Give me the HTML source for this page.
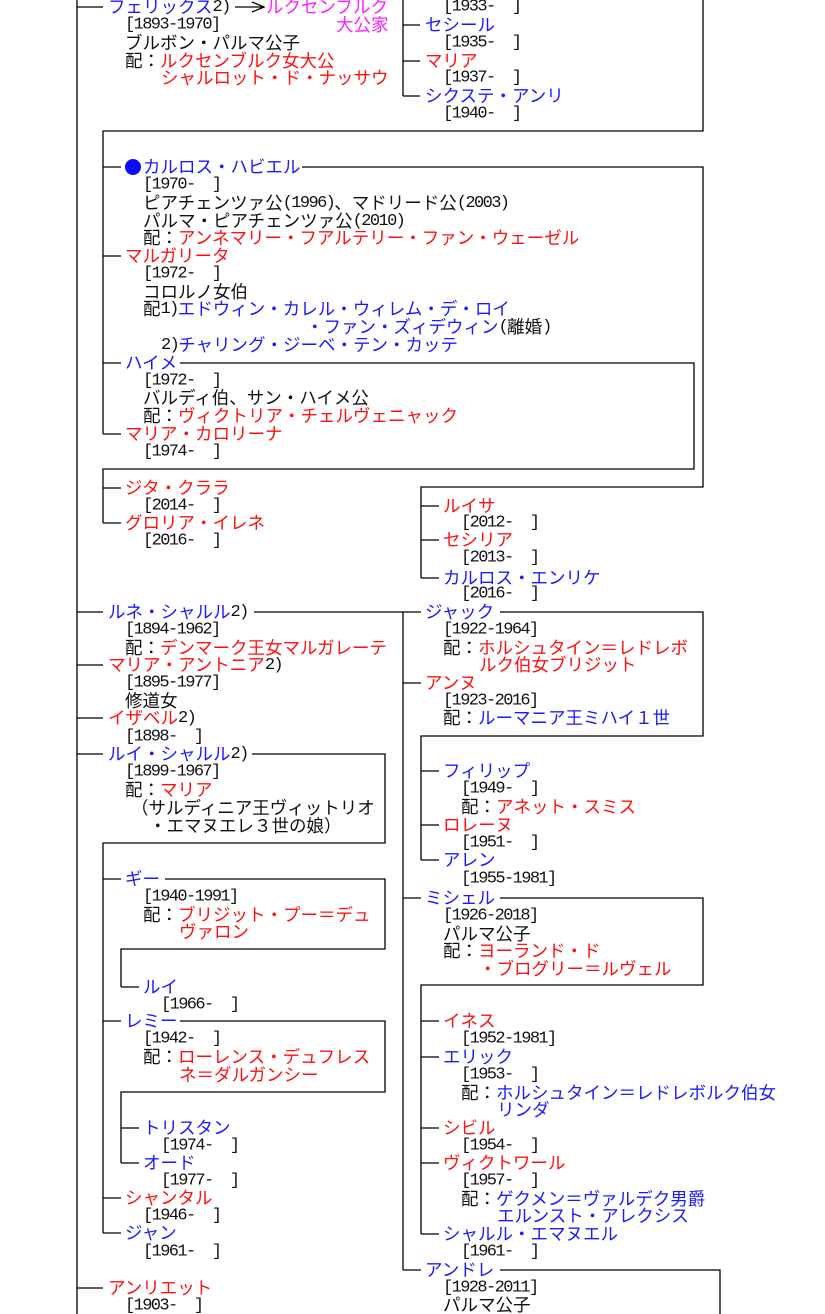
<!DOCTYPE html>
<html><head><meta charset="utf-8"><style>
html,body{margin:0;padding:0;background:#fff;width:825px;height:1314px;overflow:hidden}
svg{display:block}
text{font-family:"Liberation Serif","Noto Sans CJK JP",sans-serif;font-size:17.5px;dominant-baseline:central;white-space:pre;fill:#111}
.a{font-family:"Liberation Mono",monospace;font-size:17px;letter-spacing:-1.6px}
.b{fill:#1a1aff}.r{fill:#ff1010}.m{fill:#ff20ff}.k{fill:#111}
line,polyline{stroke:#000;stroke-width:1.3;fill:none}
</style></head><body>
<svg width="825" height="1314" viewBox="0 0 825 1314" xmlns="http://www.w3.org/2000/svg">
<line x1="77" y1="0" x2="77" y2="1314"/>
<line x1="77" y1="7" x2="103" y2="7"/>
<line x1="77" y1="612" x2="103" y2="612"/>
<line x1="77" y1="665" x2="103" y2="665"/>
<line x1="77" y1="718" x2="103" y2="718"/>
<line x1="77" y1="754" x2="103" y2="754"/>
<line x1="77" y1="1288" x2="103" y2="1288"/>
<line x1="235" y1="7" x2="264" y2="7"/>
<polyline points="252,2 264,7 252,12"/>
<line x1="403" y1="0" x2="403" y2="96"/>
<line x1="403" y1="25" x2="420" y2="25"/>
<line x1="403" y1="61" x2="420" y2="61"/>
<line x1="403" y1="96" x2="420" y2="96"/>
<polyline points="703,0 703,131 103,131 103,434"/>
<line x1="103" y1="167" x2="121" y2="167"/>
<line x1="103" y1="256" x2="121" y2="256"/>
<line x1="103" y1="363" x2="121" y2="363"/>
<line x1="103" y1="434" x2="121" y2="434"/>
<polyline points="302,167 703,167 703,487 421,487 421,578"/>
<line x1="421" y1="506" x2="439" y2="506"/>
<line x1="421" y1="540" x2="439" y2="540"/>
<line x1="421" y1="578" x2="439" y2="578"/>
<polyline points="180,363 694,363 694,469 103,469 103,523"/>
<line x1="103" y1="488" x2="121" y2="488"/>
<line x1="103" y1="523" x2="121" y2="523"/>
<line x1="254" y1="612" x2="421" y2="612"/>
<line x1="403" y1="612" x2="403" y2="1270"/>
<line x1="403" y1="683" x2="421" y2="683"/>
<line x1="403" y1="898" x2="421" y2="898"/>
<line x1="403" y1="1270" x2="421" y2="1270"/>
<polyline points="500,612 703,612 703,736 421,736 421,860"/>
<line x1="421" y1="771" x2="439" y2="771"/>
<line x1="421" y1="825" x2="439" y2="825"/>
<line x1="421" y1="860" x2="439" y2="860"/>
<polyline points="500,898 703,898 703,985 421,985 421,1234"/>
<line x1="421" y1="1021" x2="439" y2="1021"/>
<line x1="421" y1="1057" x2="439" y2="1057"/>
<line x1="421" y1="1128" x2="439" y2="1128"/>
<line x1="421" y1="1163" x2="439" y2="1163"/>
<line x1="421" y1="1234" x2="439" y2="1234"/>
<polyline points="500,1270 720,1270 720,1314"/>
<polyline points="252,754 385,754 385,843 103,843 103,1233"/>
<line x1="103" y1="879" x2="121" y2="879"/>
<line x1="103" y1="1021" x2="121" y2="1021"/>
<line x1="103" y1="1198" x2="121" y2="1198"/>
<line x1="103" y1="1233" x2="121" y2="1233"/>
<polyline points="165,879 385,879 385,949 121,949 121,987"/>
<line x1="121" y1="987" x2="139" y2="987"/>
<polyline points="180,1021 385,1021 385,1092 121,1092 121,1163"/>
<line x1="121" y1="1128" x2="139" y2="1128"/>
<line x1="121" y1="1163" x2="139" y2="1163"/>

<text x="108" y="7" class="b">フェリックス<tspan class="k a">2)</tspan></text>
<text x="266" y="7" class="m">ルクセンブルク</text>
<text x="336" y="25" class="m">大公家</text>
<text x="125" y="25" class="a">[1893-1970]</text>
<text x="125" y="43">ブルボン・パルマ公子</text>
<text x="125" y="61">配：<tspan class="r">ルクセンブルク女大公</tspan></text>
<text x="161" y="78" class="r">シャルロット・ド・ナッサウ</text>
<text x="443" y="7" class="a">[1933-  ]</text>
<text x="425" y="25" class="b">セシール</text>
<text x="443" y="43" class="a">[1935-  ]</text>
<text x="425" y="61" class="r">マリア</text>
<text x="443" y="78" class="a">[1937-  ]</text>
<text x="425" y="96" class="b">シクステ・アンリ</text>
<text x="443" y="114" class="a">[1940-  ]</text>

<circle cx="133" cy="167" r="8" fill="#0a0aff"/>
<text x="143" y="167" class="b">カルロス・ハビエル</text>
<text x="143" y="185" class="a">[1970-  ]</text>
<text x="143" y="203">ピアチェンツァ公<tspan class="a">(1996)</tspan>、マドリード公<tspan class="a">(2003)</tspan></text>
<text x="143" y="221">パルマ・ピアチェンツァ公<tspan class="a">(2010)</tspan></text>
<text x="143" y="238">配：<tspan class="r">アンネマリー・フアルテリー・ファン・ウェーゼル</tspan></text>
<text x="125" y="256" class="r">マルガリータ</text>
<text x="143" y="274" class="a">[1972-  ]</text>
<text x="143" y="292">コロルノ女伯</text>
<text x="143" y="309">配<tspan class="a">1)</tspan><tspan class="b">エドウィン・カレル・ウィレム・デ・ロイ</tspan></text>
<text x="306" y="327" class="b">・ファン・ズィデウィン<tspan class="k a">(</tspan><tspan class="k">離婚</tspan><tspan class="k a">)</tspan></text>
<text x="161" y="345"><tspan class="a">2)</tspan><tspan class="b">チャリング・ジーベ・テン・カッテ</tspan></text>
<text x="125" y="363" class="b">ハイメ</text>
<text x="143" y="381" class="a">[1972-  ]</text>
<text x="143" y="398">バルディ伯、サン・ハイメ公</text>
<text x="143" y="416">配：<tspan class="r">ヴィクトリア・チェルヴェニャック</tspan></text>
<text x="125" y="434" class="r">マリア・カロリーナ</text>
<text x="143" y="452" class="a">[1974-  ]</text>
<text x="125" y="488" class="r">ジタ・クララ</text>
<text x="143" y="506" class="a">[2014-  ]</text>
<text x="125" y="523" class="r">グロリア・イレネ</text>
<text x="143" y="541" class="a">[2016-  ]</text>
<text x="443" y="506" class="r">ルイサ</text>
<text x="461" y="523" class="a">[2012-  ]</text>
<text x="443" y="540" class="r">セシリア</text>
<text x="461" y="558" class="a">[2013-  ]</text>
<text x="443" y="578" class="b">カルロス・エンリケ</text>
<text x="461" y="594" class="a">[2016-  ]</text>

<text x="108" y="612" class="b">ルネ・シャルル<tspan class="k a">2)</tspan></text>
<text x="125" y="630" class="a">[1894-1962]</text>
<text x="125" y="648">配：<tspan class="r">デンマーク王女マルガレーテ</tspan></text>
<text x="108" y="665" class="r">マリア・アントニア<tspan class="k a">2)</tspan></text>
<text x="125" y="683" class="a">[1895-1977]</text>
<text x="125" y="701">修道女</text>
<text x="108" y="718" class="r">イザベル<tspan class="k a">2)</tspan></text>
<text x="125" y="737" class="a">[1898-  ]</text>
<text x="108" y="754" class="b">ルイ・シャルル<tspan class="k a">2)</tspan></text>
<text x="125" y="772" class="a">[1899-1967]</text>
<text x="125" y="790">配：<tspan class="r">マリア</tspan></text>
<text x="131" y="808">（サルディニア王ヴィットリオ</text>
<text x="149" y="826">・エマヌエレ３世の娘）</text>
<text x="125" y="879" class="b">ギー</text>
<text x="143" y="897" class="a">[1940-1991]</text>
<text x="143" y="915">配：<tspan class="r">ブリジット・プー＝デュ</tspan></text>
<text x="179" y="932" class="r">ヴァロン</text>
<text x="143" y="987" class="b">ルイ</text>
<text x="161" y="1005" class="a">[1966-  ]</text>
<text x="125" y="1021" class="b">レミー</text>
<text x="143" y="1039" class="a">[1942-  ]</text>
<text x="143" y="1057">配：<tspan class="r">ローレンス・デュフレス</tspan></text>
<text x="179" y="1075" class="r">ネ＝ダルガンシー</text>
<text x="143" y="1128" class="b">トリスタン</text>
<text x="161" y="1146" class="a">[1974-  ]</text>
<text x="143" y="1163" class="b">オード</text>
<text x="161" y="1181" class="a">[1977-  ]</text>
<text x="125" y="1198" class="r">シャンタル</text>
<text x="143" y="1216" class="a">[1946-  ]</text>
<text x="125" y="1233" class="b">ジャン</text>
<text x="143" y="1252" class="a">[1961-  ]</text>
<text x="108" y="1288" class="r">アンリエット</text>
<text x="125" y="1306" class="a">[1903-  ]</text>

<text x="425" y="612" class="b">ジャック</text>
<text x="443" y="630" class="a">[1922-1964]</text>
<text x="443" y="648">配：<tspan class="r">ホルシュタイン＝レドレボ</tspan></text>
<text x="479" y="665" class="r">ルク伯女ブリジット</text>
<text x="425" y="683" class="r">アンヌ</text>
<text x="443" y="701" class="a">[1923-2016]</text>
<text x="443" y="718">配：<tspan class="b">ルーマニア王ミハイ１世</tspan></text>
<text x="443" y="771" class="b">フィリップ</text>
<text x="461" y="789" class="a">[1949-  ]</text>
<text x="461" y="807">配：<tspan class="r">アネット・スミス</tspan></text>
<text x="443" y="825" class="r">ロレーヌ</text>
<text x="461" y="843" class="a">[1951-  ]</text>
<text x="443" y="860" class="b">アレン</text>
<text x="461" y="879" class="a">[1955-1981]</text>
<text x="425" y="898" class="b">ミシェル</text>
<text x="443" y="916" class="a">[1926-2018]</text>
<text x="443" y="934">パルマ公子</text>
<text x="443" y="951">配：<tspan class="r">ヨーランド・ド</tspan></text>
<text x="479" y="969" class="r">・ブログリー＝ルヴェル</text>
<text x="443" y="1021" class="r">イネス</text>
<text x="461" y="1039" class="a">[1952-1981]</text>
<text x="443" y="1057" class="b">エリック</text>
<text x="461" y="1075" class="a">[1953-  ]</text>
<text x="461" y="1093">配：<tspan class="b">ホルシュタイン＝レドレボルク伯女</tspan></text>
<text x="497" y="1110" class="b">リンダ</text>
<text x="443" y="1128" class="r">シビル</text>
<text x="461" y="1146" class="a">[1954-  ]</text>
<text x="443" y="1163" class="r">ヴィクトワール</text>
<text x="461" y="1181" class="a">[1957-  ]</text>
<text x="461" y="1199">配：<tspan class="b">ゲクメン＝ヴァルデク男爵</tspan></text>
<text x="497" y="1216" class="b">エルンスト・アレクシス</text>
<text x="443" y="1234" class="b">シャルル・エマヌエル</text>
<text x="461" y="1252" class="a">[1961-  ]</text>
<text x="425" y="1270" class="b">アンドレ</text>
<text x="443" y="1288" class="a">[1928-2011]</text>
<text x="443" y="1305">パルマ公子</text>
</svg>
</body></html>
